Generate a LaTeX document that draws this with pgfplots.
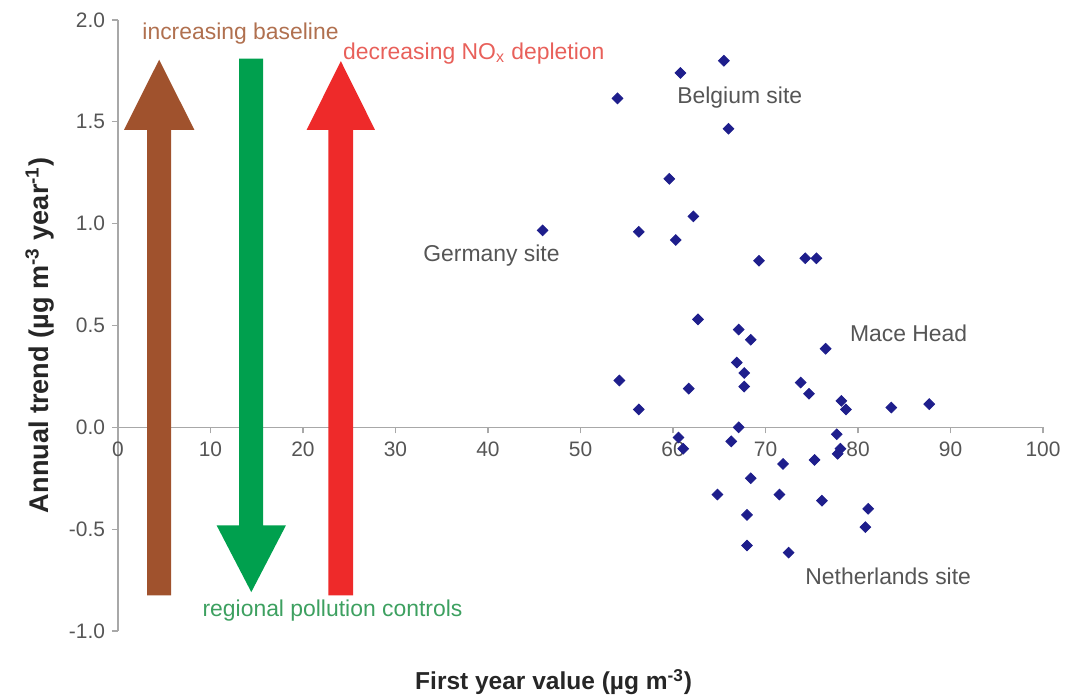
\documentclass[border=0pt]{standalone}
\usepackage{pgfplots}
\pgfplotsset{compat=1.18}
\usepackage{fontspec}
\setmainfont{Liberation Sans}
\definecolor{ptblue}{HTML}{1E1E8C}
\definecolor{brownA}{HTML}{A0522D}
\definecolor{greenA}{HTML}{00A04E}
\definecolor{redA}{HTML}{EE2A2A}
\definecolor{axgray}{HTML}{A8A8A8}
\definecolor{txtgray}{HTML}{555555}
\definecolor{brownT}{HTML}{B0704F}
\definecolor{redT}{HTML}{E8605A}
\definecolor{greenT}{HTML}{3DA060}
\begin{document}
\begin{tikzpicture}
\useasboundingbox (-59bp,-34bp) rectangle (478bp,315.5bp);
\begin{axis}[
  scale only axis, width=462.5bp, height=305.5bp,
  xmin=0, xmax=100, ymin=-1, ymax=2,
  axis x line=middle, axis y line=left,
  axis line style={-, draw=axgray, line width=0.6pt},
  hide obscured x ticks=false, hide obscured y ticks=false,
  xtick={0,10,...,100},
  ytick={-1,-0.5,0,0.5,1,1.5,2},
  tick align=outside, major tick length=3bp,
  tick style={draw=axgray, line width=0.6pt},
  /pgf/number format/assume math mode=true,
  yticklabel style={/pgf/number format/.cd, fixed, fixed zerofill, precision=1},
  ticklabel style={font=\fontsize{10.5}{12}\selectfont, text=txtgray},
  xticklabel style={yshift=-1bp},
  xlabel={\textbf{First year value (µg m\textsuperscript{-3})}},
  ylabel={\textbf{Annual trend (µg m\textsuperscript{-3} year\textsuperscript{-1})}},
  xlabel style={at={(axis description cs:0.471,-0.0835)}, anchor=center, font=\fontsize{12.3}{14}\selectfont, text=black!85},
  ylabel style={at={(axis description cs:-0.0843,0.484)}, anchor=center, rotate=0, font=\fontsize{13.6}{15}\selectfont, text=black!85},
  clip=false,
]
% arrows
\fill[brownA] (axis cs:3.15,-0.825) -- (axis cs:5.75,-0.825) -- (axis cs:5.75,1.461) -- (axis cs:8.25,1.461) -- (axis cs:4.45,1.805) -- (axis cs:0.65,1.461) -- (axis cs:3.15,1.461) -- cycle;
\fill[greenA] (axis cs:13.1,1.81) -- (axis cs:15.7,1.81) -- (axis cs:15.7,-0.481) -- (axis cs:18.16,-0.481) -- (axis cs:14.41,-0.809) -- (axis cs:10.66,-0.481) -- (axis cs:13.1,-0.481) -- cycle;
\fill[redA] (axis cs:22.75,-0.825) -- (axis cs:25.43,-0.825) -- (axis cs:25.43,1.461) -- (axis cs:27.78,1.461) -- (axis cs:24.09,1.798) -- (axis cs:20.4,1.461) -- (axis cs:22.75,1.461) -- cycle;
\addplot[only marks, mark=square*, mark size=1.9pt, mark options={rotate=45}, color=ptblue] coordinates {
(62.7,0.53) (67.1,0.48) (68.4,0.43) (76.5,0.386) (66.9,0.318) (67.7,0.267)
(67.7,0.20) (54.2,0.23) (61.7,0.19) (73.8,0.22) (74.7,0.165) (56.3,0.088)
(78.2,0.13) (78.7,0.088) (83.6,0.097) (87.7,0.114) (67.1,0.0) (60.6,-0.05)
(61.1,-0.105) (66.3,-0.069) (77.7,-0.034) (78.1,-0.105) (77.8,-0.13) (75.3,-0.16)
(71.9,-0.18) (68.4,-0.25) (64.8,-0.33) (71.5,-0.33) (76.1,-0.36) (81.1,-0.40)
(68.0,-0.43) (80.8,-0.49) (68.0,-0.58) (72.5,-0.615)
(65.5,1.80) (60.8,1.74) (54.0,1.615) (66.0,1.466) (59.6,1.22) (62.2,1.036)
(45.9,0.967) (56.3,0.96) (60.3,0.92) (69.3,0.818) (74.3,0.83) (75.5,0.83)
};
\begin{scope}[every node/.style={anchor=west, inner sep=0pt, font=\fontsize{11.5}{13}\selectfont}]
\node[text=brownT] at (axis cs:2.6,1.934) {increasing baseline};
\node[text=redT] at (axis cs:24.3,1.836) {decreasing NO\textsubscript{x} depletion};
\node[text=greenT] at (axis cs:9.1,-0.898) {regional pollution controls};
\node[text=txtgray] at (axis cs:60.43,1.62) {Belgium site};
\node[text=txtgray] at (axis cs:32.97,0.844) {Germany site};
\node[text=txtgray] at (axis cs:79.1,0.461) {Mace Head};
\node[text=txtgray] at (axis cs:74.27,-0.731) {Netherlands site};
\end{scope}
\end{axis}
\end{tikzpicture}
\end{document}
